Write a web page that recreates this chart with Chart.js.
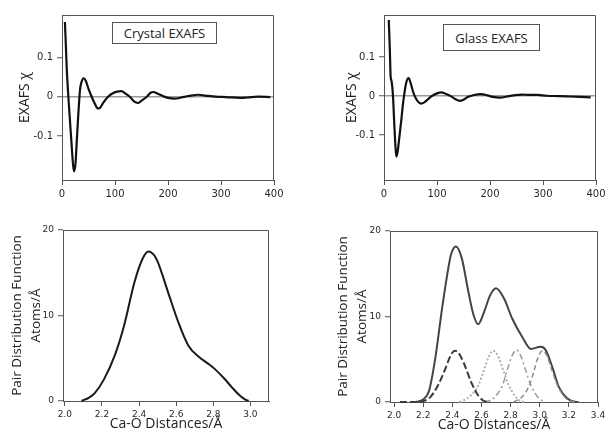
<!DOCTYPE html>
<html><head><meta charset="utf-8">
<script src="https://cdn.jsdelivr.net/npm/chart.js@4.4.1/dist/chart.umd.min.js"></script>
<style>
html,body{margin:0;padding:0;background:#fff;overflow:hidden;width:605px;height:434px;position:relative}
canvas{position:absolute}
.box{position:absolute;border:1px solid #555;font:13px "Open Sans",sans-serif;color:#222;display:flex;align-items:center;justify-content:center;background:#fff;box-sizing:border-box}
</style></head><body>
<canvas id="c1" width="290" height="205" style="left:0;top:0"></canvas>
<canvas id="c2" width="290" height="205" style="left:320px;top:0"></canvas>
<canvas id="c3" width="290" height="229" style="left:0;top:205px"></canvas>
<canvas id="c4" width="290" height="229" style="left:320px;top:205px"></canvas>
<div class="box" style="left:112px;top:22px;width:105px;height:22px">Crystal EXAFS</div>
<div class="box" style="left:443px;top:24px;width:97px;height:27px">Glass EXAFS</div>
<script>
// ---------- DATA ----------
const exafsXTicks = [0, 100, 200, 300, 400];
const exafsYTicks = [-0.1, 0, 0.1];
const pdfYTicks = [0, 10, 20];
const crystalPdfXTicks = [2.0, 2.2, 2.4, 2.6, 2.8, 3.0];
const glassPdfXTicks = [2.0, 2.2, 2.4, 2.6, 2.8, 3.0, 3.2, 3.4];

const crystalExafsX = [5.5, 7, 9, 12, 15, 18, 21, 23, 25.5, 28, 31, 34, 37, 41, 45, 50, 56, 62, 68, 72, 78, 87, 95, 104, 112, 120, 128, 136, 143, 150, 160, 167, 173, 180, 190, 200, 213, 225, 240, 257, 270, 290, 310, 336, 350, 370, 393];
const crystalExafsY = [0.19, 0.14, 0.07, 0.0, -0.06, -0.12, -0.175, -0.19, -0.17, -0.11, -0.04, 0.018, 0.038, 0.047, 0.04, 0.02, 0.0, -0.018, -0.03, -0.028, -0.015, 0.0, 0.008, 0.013, 0.014, 0.008, 0.0, -0.012, -0.016, -0.01, 0.0, 0.01, 0.012, 0.008, 0.002, -0.003, -0.005, -0.002, 0.002, 0.005, 0.003, 0.0, -0.001, -0.003, -0.002, 0.0, -0.001];

const glassExafsX = [9, 11, 12.5, 14, 17, 19, 21, 23.3, 26, 29, 32.7, 35, 37.7, 42, 46.5, 50, 54, 58, 63, 70, 76, 83, 90, 100, 108, 116, 126, 135, 143, 150, 158, 170, 183, 195, 205, 219, 232, 245, 260, 275, 290, 306, 330, 350, 370, 390];
const glassExafsY = [0.195, 0.12, 0.05, 0.04, 0.0, -0.06, -0.115, -0.155, -0.14, -0.105, -0.061, -0.03, 0.0, 0.035, 0.046, 0.035, 0.015, 0.0, -0.012, -0.019, -0.016, -0.008, 0.0, 0.007, 0.0095, 0.006, 0.0, -0.008, -0.012, -0.009, -0.002, 0.003, 0.005, 0.002, -0.002, -0.004, -0.001, 0.002, 0.004, 0.003, 0.003, 0.001, 0.0, -0.001, -0.002, -0.003];

const crystalPdfX = [2.09, 2.13, 2.16, 2.21, 2.27, 2.32, 2.375, 2.42, 2.45, 2.48, 2.50, 2.555, 2.61, 2.665, 2.72, 2.77, 2.81, 2.86, 2.90, 2.935, 2.97, 2.99];
const crystalPdfY = [0, 0.4, 0.9, 2.5, 5.4, 8.9, 13.9, 16.7, 17.5, 17.1, 16.3, 12.8, 9.3, 6.5, 5.2, 4.4, 3.7, 2.6, 1.6, 0.8, 0.2, 0];

const glassPdfX = [2.15, 2.20, 2.24, 2.28, 2.33, 2.365, 2.39, 2.425, 2.465, 2.51, 2.545, 2.577, 2.615, 2.66, 2.70, 2.755, 2.81, 2.88, 2.94, 3.005, 3.04, 3.09, 3.13, 3.19, 3.25, 3.27];
const glassPdfY = [0, 0.3, 1.3, 4.8, 11.0, 14.9, 17.2, 18.2, 16.8, 12.9, 10.2, 9.1, 10.4, 12.5, 13.3, 12.1, 9.8, 7.6, 6.2, 6.45, 6.1, 3.9, 1.8, 0.4, 0, 0];

const comp1X = [2.04, 2.15, 2.2, 2.25, 2.3, 2.35, 2.39, 2.415, 2.44, 2.48, 2.53, 2.58, 2.62, 2.66];
const comp1Y = [0, 0, 0.1, 0.6, 1.9, 3.8, 5.5, 6.0, 5.8, 4.5, 2.3, 0.7, 0.1, 0];
const comp2X = [2.45, 2.50, 2.55, 2.58, 2.62, 2.65, 2.678, 2.71, 2.75, 2.786, 2.83, 2.87, 2.9];
const comp2Y = [0, 0.4, 1.2, 2.0, 3.9, 5.3, 6.0, 5.5, 3.7, 2.0, 0.7, 0.1, 0];
const comp3X = [2.62, 2.68, 2.745, 2.78, 2.81, 2.84, 2.87, 2.90, 2.938, 2.99, 3.04];
const comp3Y = [0, 0.4, 2.0, 3.9, 5.4, 6.1, 5.4, 3.9, 2.0, 0.5, 0];
const comp4X = [2.82, 2.88, 2.93, 2.96, 2.99, 3.02, 3.05, 3.08, 3.12, 3.17, 3.22, 3.27];
const comp4Y = [0, 0.6, 2.0, 3.6, 5.3, 6.0, 5.4, 3.9, 2.0, 0.6, 0.05, 0];

// ---------- HELPERS ----------
const axisColor = '#555';
const tickColor = '#1e2233';
const pts = (xs, ys) => xs.map((x, i) => ({x: x, y: ys[i]}));
const fixW = w => s => { s.width = w; };
const fixH = h => s => { s.height = h; };
const setTicks = arr => s => { s.ticks = arr.map(v => ({value: v})); };

const frame = {
  id: 'frame',
  afterDatasetsDraw(chart) {
    const {ctx, chartArea: a} = chart;
    ctx.save();
    ctx.strokeStyle = axisColor;
    ctx.lineWidth = 1;
    ctx.beginPath();
    ctx.moveTo(Math.round(a.left), Math.round(a.top) + 0.5);
    ctx.lineTo(Math.round(a.right) - 0.5, Math.round(a.top) + 0.5);
    ctx.lineTo(Math.round(a.right) - 0.5, Math.round(a.bottom));
    ctx.stroke();
    ctx.restore();
  }
};

function line(data, color, width, dash) {
  return {data: data, borderColor: color, borderWidth: width, borderDash: dash || [],
    pointRadius: 0, fill: false, cubicInterpolationMode: 'monotone', clip: false};
}

function baseOptions(o) {
  return {
    responsive: false, animation: false, events: [],
    layout: {padding: o.padding},
    plugins: {legend: {display: false}, tooltip: {enabled: false}},
    scales: {
      x: {
        type: 'linear', min: o.xmin, max: o.xmax,
        afterBuildTicks: setTicks(o.xticks), afterFit: fixH(o.xh),
        grid: {drawOnChartArea: false, tickLength: 5, tickColor: axisColor, tickWidth: 1},
        border: {color: axisColor, width: 1},
        ticks: {font: {family: 'DejaVu Sans', size: o.tfs}, color: tickColor, padding: 3,
          maxRotation: 0, autoSkip: false, callback: o.xfmt},
        title: o.xtitle
      },
      y: {
        type: 'linear', min: o.ymin, max: o.ymax,
        afterBuildTicks: setTicks(o.yticks), afterFit: fixW(o.yw),
        grid: {drawOnChartArea: !!o.zeroLine,
          color: c => (c.tick && c.tick.value === 0) ? '#9a9a9a' : 'rgba(0,0,0,0)',
          lineWidth: 1.5, tickLength: 5, tickColor: axisColor, tickWidth: 1},
        border: {color: axisColor, width: 1},
        ticks: {font: {family: 'DejaVu Sans', size: o.tfs}, color: tickColor, padding: 4},
        title: o.ytitle
      }
    }
  };
}

// ---------- TOP LEFT: Crystal EXAFS ----------
new Chart(document.getElementById('c1'), {
  type: 'line',
  data: {datasets: [line(pts(crystalExafsX, crystalExafsY), '#111', 2.2)]},
  options: baseOptions({padding: {left: 0, top: 15, right: 16, bottom: 0},
    xmin: 0, xmax: 400, xticks: exafsXTicks, xh: 25, tfs: 10,
    ymin: -0.212, ymax: 0.208, yticks: exafsYTicks, yw: 62, zeroLine: true,
    xtitle: {display: false},
    ytitle: {display: true, text: 'EXAFS χ', color: '#222', font: {family: 'Open Sans', size: 14}, padding: {top: 17}}}),
  plugins: [frame]
});

// ---------- TOP RIGHT: Glass EXAFS ----------
new Chart(document.getElementById('c2'), {
  type: 'line',
  data: {datasets: [line(pts(glassExafsX, glassExafsY), '#111', 2.2)]},
  options: baseOptions({padding: {left: 0, top: 15, right: 14, bottom: 0},
    xmin: 0, xmax: 400, xticks: exafsXTicks, xh: 25, tfs: 10,
    ymin: -0.215, ymax: 0.208, yticks: exafsYTicks, yw: 64, zeroLine: true,
    xtitle: {display: false},
    ytitle: {display: true, text: 'EXAFS χ', color: '#222', font: {family: 'Open Sans', size: 14}, padding: {top: 24}}}),
  plugins: [frame]
});

// ---------- BOTTOM LEFT: Crystal PDF ----------
new Chart(document.getElementById('c3'), {
  type: 'line',
  data: {datasets: [line(pts(crystalPdfX, crystalPdfY), '#1a1a1a', 2)]},
  options: baseOptions({padding: {left: 0, top: 25, right: 21, bottom: 0},
    xmin: 1.99, xmax: 3.1, xticks: crystalPdfXTicks, xh: 33, tfs: 9, xfmt: v => v.toFixed(1),
    ymin: 0, ymax: 20, yticks: pdfYTicks, yw: 63, zeroLine: false,
    xtitle: {display: true, text: 'Ca-O Distances/Å', color: '#222', font: {family: 'Open Sans', size: 14}, padding: {top: 0, bottom: 1.6}},
    ytitle: {display: true, text: ['Pair Distribution Function', 'Atoms/Å'], color: '#222',
      font: {family: 'Open Sans', size: 13.5, lineHeight: 1.4}, padding: {top: 8}}}),
  plugins: [frame]
});

// ---------- BOTTOM RIGHT: Glass PDF ----------
new Chart(document.getElementById('c4'), {
  type: 'line',
  data: {datasets: [
    line(pts(comp1X, comp1Y), '#3a3a3a', 2, [7, 3]),
    line(pts(comp2X, comp2Y), '#b0b0b0', 2, [2, 2]),
    line(pts(comp3X, comp3Y), '#9a9a9a', 1.5, [6, 3, 2, 3]),
    line(pts(comp4X, comp4Y), '#8c8c8c', 1.5, [5, 3]),
    line(pts(glassPdfX, glassPdfY), '#444', 2)
  ]},
  options: baseOptions({padding: {left: 0, top: 26, right: 12, bottom: 0},
    xmin: 1.972, xmax: 3.4, xticks: glassPdfXTicks, xh: 32, tfs: 9, xfmt: v => v.toFixed(1),
    ymin: 0, ymax: 20, yticks: pdfYTicks, yw: 70, zeroLine: false,
    xtitle: {display: true, text: 'Ca-O Distances/Å', color: '#222', font: {family: 'Open Sans', size: 14}, padding: {top: 0, bottom: 0.6}},
    ytitle: {display: true, text: ['Pair Distribution Function', 'Atoms/Å'], color: '#222',
      font: {family: 'Open Sans', size: 13.5, lineHeight: 1.45}, padding: {top: 13}}}),
  plugins: [frame]
});
</script>
</body></html>
